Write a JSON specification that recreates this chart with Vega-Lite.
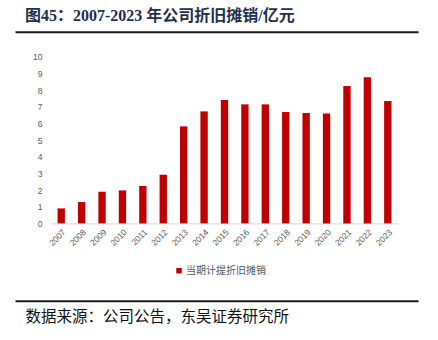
{
  "$schema": "https://vega.github.io/schema/vega-lite/v6.json",
  "autosize": "none",
  "width": 403,
  "height": 166.7,
  "padding": {"left": 15, "top": 56.7, "right": 20, "bottom": 116.6},
  "background": "white",
  "title": {
    "text": "图45：2007-2023 年公司折旧摊销/亿元",
    "anchor": "start",
    "frame": "group",
    "dx": 10,
    "offset": 8,
    "font": "Liberation Serif, Noto Sans CJK SC",
    "fontSize": 16,
    "fontWeight": "bold",
    "color": "#1f2f50"
  },
  "config": {"view": {"stroke": null}},
  "data": {
    "values": [
      {"year": "2007", "value": 0.9},
      {"year": "2008", "value": 1.28},
      {"year": "2009", "value": 1.9},
      {"year": "2010", "value": 1.98},
      {"year": "2011", "value": 2.24},
      {"year": "2012", "value": 2.92},
      {"year": "2013", "value": 5.82},
      {"year": "2014", "value": 6.72},
      {"year": "2015", "value": 7.4},
      {"year": "2016", "value": 7.14},
      {"year": "2017", "value": 7.14},
      {"year": "2018", "value": 6.68},
      {"year": "2019", "value": 6.62},
      {"year": "2020", "value": 6.6},
      {"year": "2021", "value": 8.24},
      {"year": "2022", "value": 8.76},
      {"year": "2023", "value": 7.34}
    ]
  },
  "layer": [
    {
      "mark": {"type": "bar"},
      "encoding": {
        "x": {
          "field": "year",
          "type": "ordinal",
          "scale": {"range": [36, 383], "paddingInner": 0.64, "paddingOuter": 0.32},
          "axis": {
            "orient": "bottom",
            "title": null,
            "labelAngle": -45,
            "labelColor": "#595959",
            "labelFont": "Liberation Sans",
            "labelFontSize": 8.5,
            "labelPadding": 4,
            "ticks": false,
            "domainColor": "#d9d9d9",
            "domainWidth": 1
          }
        },
        "y": {
          "field": "value",
          "type": "quantitative",
          "scale": {"domain": [0, 10], "nice": false},
          "axis": {
            "orient": "left",
            "offset": -36,
            "title": null,
            "values": [0, 1, 2, 3, 4, 5, 6, 7, 8, 9, 10],
            "domain": false,
            "ticks": false,
            "grid": false,
            "labelColor": "#595959",
            "labelFont": "Liberation Sans",
            "labelFontSize": 8.5,
            "labelPadding": 9
          }
        },
        "color": {
          "datum": "当期计提折旧摊销",
          "scale": {"range": ["#C00000"]},
          "legend": {
            "orient": "none",
            "legendX": 159,
            "legendY": 209,
            "title": null,
            "padding": 0,
            "symbolType": "square",
            "symbolSize": 30,
            "symbolStrokeWidth": 0,
            "labelFont": "Noto Sans CJK SC",
            "labelFontSize": 10,
            "labelColor": "#595959",
            "labelOffset": 2
          }
        }
      }
    },
    {
      "mark": {"type": "rule", "opacity": 0},
      "encoding": {
        "x": {
          "datum": 0,
          "type": "quantitative",
          "scale": {"domain": [0, 1], "range": [0, 403], "nice": false, "zero": false},
          "axis": {
            "orient": "top",
            "offset": 25,
            "title": null,
            "labels": false,
            "ticks": false,
            "grid": false,
            "domainColor": "#1a1a1a",
            "domainWidth": 2
          }
        }
      }
    },
    {
      "mark": {"type": "rule", "opacity": 0},
      "encoding": {
        "x": {
          "datum": 0,
          "type": "quantitative",
          "scale": {"domain": [0, 1], "range": [0, 403], "nice": false, "zero": false},
          "axis": {
            "orient": "bottom",
            "offset": 77.4,
            "title": "数据来源：公司公告，东吴证券研究所",
            "titleX": 10,
            "titleY": 16,
            "titleAlign": "left",
            "titleAnchor": "start",
            "titleBaseline": "middle",
            "titleFont": "Noto Sans CJK SC",
            "titleFontSize": 15.5,
            "titleFontWeight": "normal",
            "titleColor": "#111111",
            "labels": false,
            "ticks": false,
            "grid": false,
            "domainColor": "#1a1a1a",
            "domainWidth": 2
          }
        }
      }
    }
  ],
  "resolve": {"scale": {"x": "independent"}, "axis": {"x": "independent"}}
}
